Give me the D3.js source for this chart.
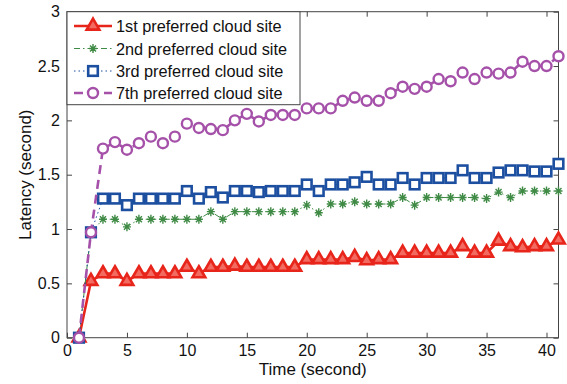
<!DOCTYPE html>
<html>
<head>
<meta charset="utf-8">
<script src="https://cdn.jsdelivr.net/npm/d3@7"></script>
<style>
body { margin: 0; background: #fff; }
text { font-family: "Liberation Sans", Arial, sans-serif; }
</style>
</head>
<body>
<svg id="s" width="567" height="384"></svg>
<script>
var times = d3.range(1, 42);

var first = [0, 0.52, 0.59, 0.59, 0.52, 0.59, 0.59, 0.59, 0.59, 0.65,
  0.59, 0.65, 0.65, 0.66, 0.65, 0.65, 0.65, 0.65, 0.65, 0.72,
  0.72, 0.72, 0.72, 0.74, 0.71, 0.72, 0.72, 0.78, 0.78, 0.78,
  0.78, 0.78, 0.84, 0.78, 0.78, 0.89, 0.84, 0.83, 0.84, 0.84, 0.90];

var second = [0, 0.97, 1.09, 1.09, 1.02, 1.09, 1.09, 1.09, 1.09, 1.09,
  1.09, 1.16, 1.09, 1.16, 1.16, 1.16, 1.16, 1.16, 1.16, 1.22,
  1.15, 1.23, 1.23, 1.25, 1.23, 1.23, 1.23, 1.29, 1.22, 1.29,
  1.29, 1.29, 1.29, 1.29, 1.28, 1.34, 1.29, 1.35, 1.35, 1.35, 1.35];

var third = [0, 0.97, 1.28, 1.28, 1.22, 1.28, 1.28, 1.28, 1.28, 1.35,
  1.28, 1.34, 1.29, 1.35, 1.35, 1.34, 1.35, 1.35, 1.35, 1.41,
  1.35, 1.41, 1.41, 1.43, 1.48, 1.41, 1.41, 1.47, 1.41, 1.47,
  1.47, 1.47, 1.54, 1.47, 1.47, 1.52, 1.54, 1.54, 1.53, 1.53, 1.60];

var seventh = [0, 0.97, 1.74, 1.80, 1.73, 1.79, 1.85, 1.79, 1.85, 1.97,
  1.93, 1.92, 1.91, 2.00, 2.06, 1.99, 2.05, 2.05, 2.05, 2.11,
  2.11, 2.11, 2.18, 2.21, 2.18, 2.18, 2.25, 2.31, 2.29, 2.31,
  2.38, 2.36, 2.44, 2.38, 2.44, 2.43, 2.44, 2.54, 2.50, 2.50, 2.59];

var names = ["1st preferred cloud site", "2nd preferred cloud site",
  "3rd preferred cloud site", "7th preferred cloud site"];

var xTicks = [0, 5, 10, 15, 20, 25, 30, 35, 40];
var yTicks = [0, 0.5, 1, 1.5, 2, 2.5, 3];

var svg = d3.select("#s");
var pl = 67, pr = 558.5, pt = 11.7, pb = 337.7;

var x = d3.scaleLinear().domain([0, 41]).range([pl, pr]);
var y = d3.scaleLinear().domain([0, 3]).range([pb, pt]);

// axes, ticks inside like matlab
svg.append("g").attr("transform", "translate(0," + pb + ")")
  .call(d3.axisBottom(x).tickValues(xTicks).tickSizeInner(-5).tickSizeOuter(0).tickPadding(7))
  .call(g => g.select(".domain").remove());
svg.append("g").attr("transform", "translate(0," + pt + ")")
  .call(d3.axisTop(x).tickValues(xTicks).tickSizeInner(-5).tickSizeOuter(0).tickFormat(""))
  .call(g => g.select(".domain").remove());
svg.append("g").attr("transform", "translate(" + pl + ",0)")
  .call(d3.axisLeft(y).tickValues(yTicks).tickSizeInner(-5).tickSizeOuter(0).tickPadding(7).tickFormat(d3.format("")))
  .call(g => g.select(".domain").remove());
svg.append("g").attr("transform", "translate(" + pr + ",0)")
  .call(d3.axisRight(y).tickValues(yTicks).tickSizeInner(-5).tickSizeOuter(0).tickFormat(""))
  .call(g => g.select(".domain").remove());

svg.selectAll(".tick text").attr("font-size", 16).attr("fill", "#111")
  .attr("font-family", "Liberation Sans, Arial, sans-serif");
svg.selectAll(".tick line").attr("stroke", "#444");

svg.append("rect").attr("x", pl).attr("y", pt)
  .attr("width", pr - pl).attr("height", pb - pt)
  .attr("fill", "none").attr("stroke", "#444").attr("stroke-width", 1);

svg.append("text").attr("x", (pl + pr) / 2).attr("y", 375)
  .attr("text-anchor", "middle").attr("font-size", 17).attr("fill", "#111").text("Time (second)");
svg.append("text").attr("transform", "translate(31," + (pt + pb) / 2 + ") rotate(-90)")
  .attr("text-anchor", "middle").attr("font-size", 17).attr("fill", "#111").text("Latency (second)");

var series = [
  { vals: first, color: "#e8251b", dash: null, width: 2.6, mark: "tri" },
  { vals: second, color: "#3f8a45", dash: "6,3,1.5,3", width: 1, mark: "star" },
  { vals: third, color: "#1c4fa0", dash: "1.5,3", width: 1, mark: "sq" },
  { vals: seventh, color: "#a551a9", dash: "9,6", width: 2.6, mark: "circ" }
];

var line = d3.line().x(d => x(d[0])).y(d => y(d[1]));

function drawMark(g, kind, color) {
  if (kind == "tri") {
    g.append("path").attr("d", d3.symbol(d3.symbolTriangle, 70)())
      .attr("fill", "#f26a60").attr("stroke", color).attr("stroke-width", 2.6);
  } else if (kind == "star") {
    g.append("path").attr("d", "M-4,0H4M0,-4.5V4.5M-3,-3L3,3M-3,3L3,-3")
      .attr("stroke", color).attr("stroke-width", 1.4).attr("fill", "none");
  } else if (kind == "sq") {
    g.append("rect").attr("x", -4.8).attr("y", -4.8).attr("width", 9.6).attr("height", 9.6)
      .attr("fill", "#fff").attr("stroke", color).attr("stroke-width", 2.6);
  } else {
    g.append("circle").attr("r", 5)
      .attr("fill", "#fff").attr("stroke", color).attr("stroke-width", 2.4);
  }
}

series.forEach(function (s) {
  var pts = times.map((t, i) => [t, s.vals[i]]);
  svg.append("path").datum(pts).attr("d", line)
    .attr("fill", "none").attr("stroke", s.color)
    .attr("stroke-width", s.width).attr("stroke-dasharray", s.dash);
  svg.append("g").selectAll("g").data(pts).enter().append("g")
    .attr("transform", d => "translate(" + x(d[0]) + "," + y(d[1]) + ")")
    .each(function () { drawMark(d3.select(this), s.mark, s.color); });
});

// legend
var lg = svg.append("g");
lg.append("rect").attr("x", pl).attr("y", pt).attr("width", 233).attr("height", 93)
  .attr("fill", "#fff").attr("stroke", "#444").attr("stroke-width", 1);
var rows = [26, 48.5, 71, 93];
series.forEach(function (s, i) {
  lg.append("line").attr("x1", 74).attr("x2", 112).attr("y1", rows[i]).attr("y2", rows[i])
    .attr("stroke", s.color).attr("stroke-width", s.width).attr("stroke-dasharray", s.dash);
  drawMark(lg.append("g").attr("transform", "translate(93," + rows[i] + ")"), s.mark, s.color);
  lg.append("text").attr("x", 116).attr("y", rows[i] + 6).attr("font-size", 16.3)
    .attr("fill", "#111").text(names[i]);
});
</script>
</body>
</html>
